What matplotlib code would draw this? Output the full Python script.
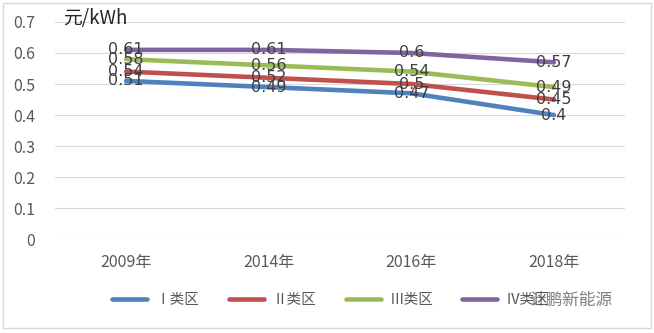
import matplotlib.pyplot as plt
from matplotlib.patches import Rectangle

plt.rcParams['font.family'] = ['Noto Sans CJK SC', 'DejaVu Sans']

years = ['2009年', '2014年', '2016年', '2018年']
names = ['Ⅰ类区', 'Ⅱ类区', 'Ⅲ类区', 'Ⅳ类区']
zone1 = [0.51, 0.49, 0.47, 0.40]
zone2 = [0.54, 0.52, 0.50, 0.45]
zone3 = [0.58, 0.56, 0.54, 0.49]
zone4 = [0.61, 0.61, 0.60, 0.57]
colors = ['#4F81BD', '#C0504D', '#9BBB59', '#8064A2']

fig = plt.figure(figsize=(6.54, 3.33), dpi=100)
ax = fig.add_axes([0.084, 0.282, 0.872, 0.652])

x = list(range(len(years)))
for vals, name, c in zip([zone1, zone2, zone3, zone4], names, colors):
    ax.plot(x, vals, color=c, lw=3.3, label=name, solid_capstyle='round')
    for xi, v in zip(x, vals):
        ax.text(xi, v, f'{v:g}', ha='center', va='center', fontsize=11.5,
                color='#404040', family=['DejaVu Sans'])

ax.set_xlim(-0.5, 3.5)
ax.set_ylim(0, 0.7)
ax.set_yticks([0, 0.1, 0.2, 0.3, 0.4, 0.5, 0.6, 0.7])
ax.set_yticklabels(['0', '0.1', '0.2', '0.3', '0.4', '0.5', '0.6', '0.7'])
ax.set_xticks(x)
ax.set_xticklabels(years)
ax.grid(axis='y', color='#D9D9D9', lw=0.8)
ax.set_axisbelow(True)
for s in ax.spines.values():
    s.set_visible(False)
ax.tick_params(length=0, colors='#595959', labelsize=11.5)
ax.tick_params(axis='x', pad=11)
ax.tick_params(axis='y', pad=14)

fig.text(0.096, 0.945, '元/kWh', fontsize=13.5, color='#262626', va='center')

leg = fig.legend(loc='center', bbox_to_anchor=(0.506, 0.099), ncol=4,
                 frameon=False, fontsize=10.5, handlelength=2.4,
                 handletextpad=0.6, columnspacing=2.0, labelcolor='#595959')

fig.text(0.81, 0.097, '计鹏新能源', fontsize=12, color='#7F7F7F', va='center')

fig.patches.append(Rectangle((0.005, 0.015), 0.99, 0.975, transform=fig.transFigure,
                             fill=False, ec='#D9D9D9', lw=1))

fig.savefig('out.png', dpi=100)
